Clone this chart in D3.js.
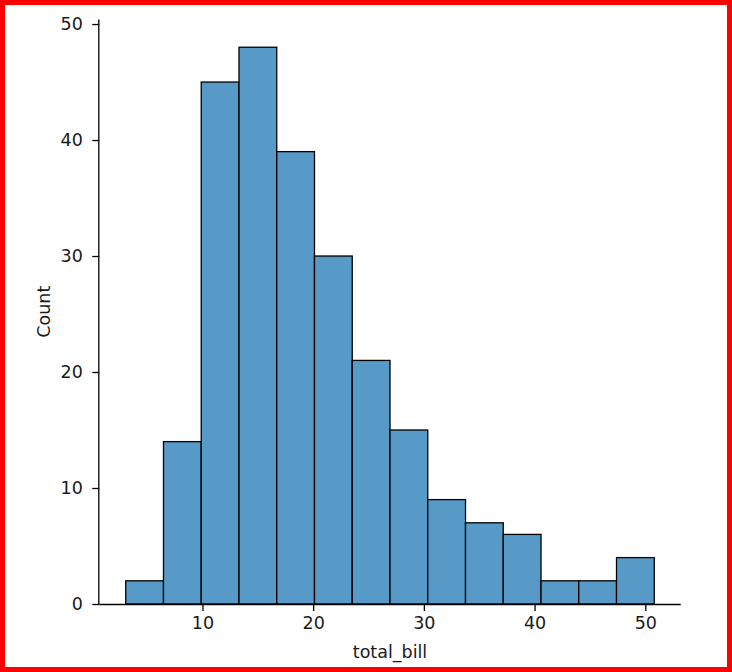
<!DOCTYPE html>
<html>
<head>
<meta charset="utf-8">
<script src="https://cdn.jsdelivr.net/npm/d3@7"></script>
<style>
  html, body { margin: 0; padding: 0; background: #fff; }
  svg { display: block; }
  text { font-family: "DejaVu Sans", sans-serif; }
</style>
</head>
<body>
<svg id="chart" width="732" height="672"></svg>
<script>
// Histogram of total_bill (14 equal bins)
const binEdges = [3.07, 6.48, 9.89, 13.30, 16.71, 20.12, 23.53, 26.94, 30.35, 33.76, 37.17, 40.58, 43.99, 47.40, 50.81];
const counts   = [2, 14, 45, 48, 39, 30, 21, 15, 9, 7, 6, 2, 2, 4];
const xTicks = [10, 20, 30, 40, 50];
const yTicks = [0, 10, 20, 30, 40, 50];
const xLabel = "total_bill";
const yLabel = "Count";

const bins = counts.map((c, i) => ({ x0: binEdges[i], x1: binEdges[i + 1], count: c }));

const W = 732, H = 672;
const mLeft = 99.3, mRight = 680.7, mTop = 19.4, mBottom = 604;
const FS = "17.5px";

const svg = d3.select("#chart");

// red frame
svg.append("rect")
  .attr("x", 2.5).attr("y", 2.5)
  .attr("width", W - 5).attr("height", H - 5)
  .attr("fill", "#fff")
  .attr("stroke", "#ff0000")
  .attr("stroke-width", 5);

const xMin = binEdges[0], xMax = binEdges[binEdges.length - 1];
const pad = (xMax - xMin) * 0.05;
const x = d3.scaleLinear().domain([xMin - pad, xMax + pad]).range([mLeft, mRight]);
const y = d3.scaleLinear().domain([0, d3.max(counts) * 1.05]).range([mBottom, mTop]);

// bars
svg.append("g")
  .selectAll("rect")
  .data(bins)
  .join("rect")
  .attr("x", d => x(d.x0))
  .attr("y", d => y(d.count))
  .attr("width", d => x(d.x1) - x(d.x0))
  .attr("height", d => y(0) - y(d.count))
  .attr("fill", "#5799c7")
  .attr("stroke", "#000")
  .attr("stroke-width", 1.3);

// axes
const xAxis = d3.axisBottom(x).tickValues(xTicks).tickSize(7).tickPadding(6).tickSizeOuter(0);
const yAxis = d3.axisLeft(y).tickValues(yTicks).tickSize(7).tickPadding(9.5).tickSizeOuter(0);

const gx = svg.append("g").attr("transform", `translate(0,${mBottom})`).call(xAxis);
const gy = svg.append("g").attr("transform", `translate(${mLeft},0)`).call(yAxis);

[gx, gy].forEach(g => {
  g.attr("font-size", null).attr("font-family", null);
  g.select(".domain").attr("stroke", "#000").attr("stroke-width", 1.3);
  g.selectAll(".tick line").attr("stroke", "#000").attr("stroke-width", 1.3);
  g.selectAll(".tick text")
    .attr("fill", "#1a1a1a")
    .style("font-family", "'DejaVu Sans', sans-serif")
    .style("font-size", FS);
});
gx.select(".domain").attr("d", `M${mLeft},0.5H${mRight}`);
gy.select(".domain").attr("d", `M-0.5,${mBottom}V${mTop}`);

// axis labels
svg.append("text")
  .attr("x", (mLeft + mRight) / 2)
  .attr("y", 658)
  .attr("text-anchor", "middle")
  .attr("fill", "#1a1a1a")
  .style("font-size", FS)
  .text(xLabel);

svg.append("text")
  .attr("transform", `translate(50,${(mTop + mBottom) / 2}) rotate(-90)`)
  .attr("text-anchor", "middle")
  .attr("fill", "#1a1a1a")
  .style("font-size", FS)
  .text(yLabel);
</script>
</body>
</html>
